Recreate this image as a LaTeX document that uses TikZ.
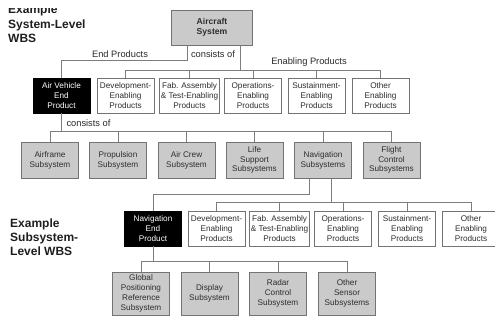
\documentclass[tikz,border=0pt]{standalone}
\usepackage{fontspec}
\setmainfont{Liberation Sans}
\definecolor{boxline}{RGB}{115,115,115}
\definecolor{connline}{RGB}{125,125,125}
\definecolor{subfill}{RGB}{202,202,202}
\definecolor{boxtext}{RGB}{45,45,45}
\definecolor{lbltext}{RGB}{40,40,40}
\definecolor{headtext}{RGB}{30,30,30}
\begin{document}
\begin{tikzpicture}[x=1pt,y=-1pt,
  box/.style={draw=boxline, line width=0.9pt, minimum width=57pt, minimum height=35pt,
    inner sep=1pt, align=center, font=\fontsize{8.2}{9.8}\selectfont, text=boxtext},
  sub/.style={box, fill=subfill},
  enab/.style={box, fill=white},
  endp/.style={box, fill=black, draw=black, text=white},
  conn/.style={draw=connline, line width=0.9pt},
  lbl/.style={font=\fontsize{9.3}{11}\selectfont, text=lbltext, inner sep=1pt},
  head/.style={font=\bfseries\fontsize{12}{14.5}\selectfont, anchor=base west, inner sep=0pt, text=headtext}]
\useasboundingbox (0,0) rectangle (495,320);

% headings
\begin{scope}
  \clip (0,9) rectangle (120,20);
  \node[head] (h1a) at (8,13.5) {Example};
\end{scope}
\node[head] (h1b) at (8,28.5) {System-Level};
\node[head] (h1c) at (8,43) {WBS};
\node[head] (h2a) at (10,228) {Example};
\node[head] (h2b) at (10,242) {Subsystem-};
\node[head] (h2c) at (10,256) {Level WBS};

% system level
\node[sub, minimum width=81pt, font=\bfseries\fontsize{8.6}{10.5}\selectfont] (sys) at (212,27.5) {Aircraft\\System};

\node[endp] (av)   at (61.5,95.5)  {Air Vehicle\\End\\Product};
\node[enab] (dev2) at (125.5,95.5) {Development-\\Enabling\\Products};
\node[enab] (fab2) at (189.5,95.5) {Fab. Assembly\\\& Test-Enabling\\Products};
\node[enab] (ops2) at (253,95.5)   {Operations-\\Enabling\\Products};
\node[enab] (sus2) at (316.5,95.5) {Sustainment-\\Enabling\\Products};
\node[enab] (oth2) at (380.5,95.5) {Other\\Enabling\\Products};

\node[sub, minimum height=36pt] (af) at (50,160)    {Airframe\\Subsystem};
\node[sub, minimum height=36pt] (pr) at (118,160)   {Propulsion\\Subsystem};
\node[sub, minimum height=36pt] (ac) at (186.5,160) {Air Crew\\Subsystem};
\node[sub, minimum height=36pt] (ls) at (254.5,160) {Life\\Support\\Subsystems};
\node[sub, minimum height=36pt] (ns) at (323,160)   {Navigation\\Subsystems};
\node[sub, minimum height=36pt] (fc) at (391.5,160) {Flight\\Control\\Subsystems};

% subsystem level
\node[endp] (ne)   at (153,228.5)   {Navigation\\End\\Product};
\node[enab] (dev4) at (216.5,228.5) {Development-\\Enabling\\Products};
\node[enab] (fab4) at (279.5,228.5) {Fab. Assembly\\\& Test-Enabling\\Products};
\node[enab] (ops4) at (343,228.5)   {Operations-\\Enabling\\Products};
\node[enab] (sus4) at (407,228.5)   {Sustainment-\\Enabling\\Products};
\node[enab] (oth4) at (471,228.5)   {Other\\Enabling\\Products};

\node[sub, minimum height=43pt] (gps) at (141,293.5)   {Global\\Positioning\\Reference\\Subsystem};
\node[sub, minimum height=43pt] (dsp) at (209.5,293.5) {Display\\Subsystem};
\node[sub, minimum height=43pt] (rdr) at (278,293.5)   {Radar\\Control\\Subsystem};
\node[sub, minimum height=43pt] (oss) at (347,293.5)   {Other\\Sensor\\Subsystems};

% bar levels
\coordinate (epY) at (0,60);
\coordinate (enY) at (0,70);
\coordinate (subY) at (0,131);
\coordinate (neY) at (0,194);
\coordinate (n4Y) at (0,202);
\coordinate (n5Y) at (0,261);

% connectors, system level
\draw[conn] ([xshift=-25pt]sys.south) |- (av.north |- epY) -- (av.north);
\draw[conn] ([xshift=28pt]sys.south) -- ([xshift=28pt]sys.south |- enY);
\draw[conn] (dev2.north) |- (oth2.north |- enY) -- (oth2.north);
\foreach \n in {fab2,ops2,sus2} \draw[conn] (\n.north) -- (\n.north |- enY);

\draw[conn] (av.south) -- (av.south |- subY);
\draw[conn] (af.north) |- (fc.north |- subY) -- (fc.north);
\foreach \n in {pr,ac,ls,ns} \draw[conn] (\n.north) -- (\n.north |- subY);

% connectors, subsystem level
\draw[conn] ([xshift=-14pt]ns.south) |- (ne.north |- neY) -- (ne.north);
\draw[conn] ([xshift=8pt]ns.south) -- ([xshift=8pt]ns.south |- n4Y);
\draw[conn] (dev4.north) |- (oth4.north |- n4Y) -- (oth4.north);
\foreach \n in {fab4,ops4,sus4} \draw[conn] (\n.north) -- (\n.north |- n4Y);

\draw[conn] (ne.south) -- (ne.south |- n5Y);
\draw[conn] (gps.north) |- (oss.north |- n5Y) -- (oss.north);
\foreach \n in {dsp,rdr} \draw[conn] (\n.north) -- (\n.north |- n5Y);

% connector labels
\node[lbl] (lep) at (120,54) {End Products};
\node[lbl] (lc1) at (213,54) {consists of};
\node[lbl] (len) at (309,62) {Enabling Products};
\node[lbl] (lc2) at (88.5,123) {consists of};
\end{tikzpicture}
\end{document}
